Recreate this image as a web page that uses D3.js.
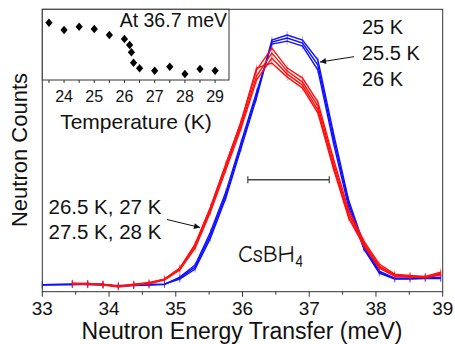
<!DOCTYPE html>
<html>
<head>
<meta charset="utf-8">
<script src="https://cdn.jsdelivr.net/npm/d3@7"></script>
<style>
  body { margin: 0; background: #fff; }
  svg text { font-family: "Liberation Sans", Arial, sans-serif; fill: #111; }
</style>
</head>
<body>
<div id="chart"></div>
<script>
// energy grid (meV)
var energyBlue = [33.0, 33.45, 33.68, 33.91, 34.14, 34.37, 34.60, 34.83, 35.06, 35.29, 35.52, 35.75, 35.98,
  36.21, 36.44, 36.67, 36.90, 37.13, 37.36, 37.59, 37.82, 38.05, 38.28, 38.51, 38.74, 38.97]
var energyRed = [33.45, 33.68, 33.91, 34.14, 34.37, 34.60, 34.83, 35.06, 35.29, 35.52, 35.75, 35.98,
  36.21, 36.44, 36.67, 36.90, 37.13, 37.36, 37.59, 37.82, 38.05, 38.28, 38.51, 38.74, 38.97]

// 25 K, 25.5 K, 26 K
var blue25 = [35, 36, 38, 36, 28, 33, 36, 38, 63, 113, 268, 468, 718, 968, 1258, 1283, 1258, 1158, 798, 458, 233, 103, 68, 68, 71, 71]
var blue255 = [35, 36, 36, 33, 31, 33, 36, 38, 68, 123, 283, 483, 733, 983, 1248, 1268, 1243, 1133, 773, 443, 223, 98, 66, 66, 68, 68]
var blue26 = [35, 38, 41, 36, 26, 31, 33, 36, 73, 133, 298, 498, 748, 998, 1238, 1253, 1228, 1108, 748, 423, 213, 93, 63, 63, 66, 66]

// 26.5 K, 27 K, 27.5 K, 28 K
var red265 = [41, 38, 36, 26, 36, 43, 63, 118, 238, 423, 638, 848, 1108, 1218, 1118, 1068, 948, 668, 408, 253, 138, 88, 81, 76, 98]
var red27 = [41, 36, 36, 28, 33, 41, 61, 113, 228, 408, 623, 833, 1078, 1193, 1103, 1048, 928, 648, 393, 243, 128, 83, 78, 73, 93]
var red275 = [38, 38, 33, 23, 33, 41, 58, 108, 218, 398, 608, 818, 1058, 1168, 1088, 1033, 908, 628, 378, 233, 123, 78, 76, 71, 88]
var red28 = [43, 41, 38, 28, 38, 46, 63, 116, 233, 418, 633, 853, 1118, 1143, 1073, 1018, 893, 618, 368, 228, 118, 78, 73, 71, 83]

var errBar = 18
var resolution = [36.08, 37.30]
var resolutionLevel = 560

// inset: intensity at 36.7 meV vs temperature
var insetTemp = [23.5, 24, 24.5, 25, 25.5, 26, 26.17, 26.23, 26.3, 26.5, 27, 27.5, 28, 28.5, 29]
var insetVal = [57.3, 50, 53.3, 51, 45, 41, 35, 27.7, 17.3, 11.7, 9.3, 13.3, 6, 11, 9.3]

var xTicks = [33, 34, 35, 36, 37, 38, 39]
var insetTicks = [24, 25, 26, 27, 28, 29]

var W = 455, H = 344
var svg = d3.select('#chart').append('svg').attr('width', W).attr('height', H)

function d3Translate(a, b) { return 'translate(' + a + ',' + b + ')' }

var plot = {left: 42.3, right: 442.7, top: 9.3, bottom: 291.7}
var x = d3.scaleLinear().domain([33, 39]).range([plot.left, plot.right])
var y = d3.scaleLinear().domain([0, 1412]).range([plot.bottom, plot.top])

var defs = svg.append('defs')
defs.append('marker')
  .attr('id', 'arrow')
  .attr('viewBox', '0 0 10 10')
  .attr('refX', 10).attr('refY', 5)
  .attr('markerWidth', 9).attr('markerHeight', 6)
  .attr('markerUnits', 'userSpaceOnUse')
  .attr('orient', 'auto')
  .append('path').attr('d', 'M0,0 L10,5 L0,10 z').attr('fill', '#111')

// curves
var line = d3.line().x(function(d) { return x(d[0]) }).y(function(d) { return y(d[1]) })

function drawSeries(es, vs, color) {
  var pts = es.map(function(e, i) { return [e, vs[i]] })
  var g = svg.append('g')
  g.selectAll('line.err').data(pts).enter().append('line')
    .attr('x1', function(d) { return x(d[0]) })
    .attr('x2', function(d) { return x(d[0]) })
    .attr('y1', function(d) { return y(d[1] - errBar) })
    .attr('y2', function(d) { return y(d[1] + errBar) })
    .attr('stroke', color).attr('stroke-width', 0.8).attr('opacity', 0.45)
  g.append('path').attr('d', line(pts))
    .attr('fill', 'none').attr('stroke', color).attr('stroke-width', 1.4)
}

;[blue25, blue255, blue26].forEach(function(s) { drawSeries(energyBlue, s, '#1010ff') })
;[red265, red27, red275, red28].forEach(function(s) { drawSeries(energyRed, s, '#ff1010') })

// resolution bar
var ry = y(resolutionLevel)
svg.append('line').attr('x1', x(resolution[0])).attr('x2', x(resolution[1]))
  .attr('y1', ry).attr('y2', ry).attr('stroke', '#444').attr('stroke-width', 1.4)
resolution.forEach(function(r) {
  svg.append('line').attr('x1', x(r)).attr('x2', x(r)).attr('y1', ry - 3.5).attr('y2', ry + 3.5)
    .attr('stroke', '#444').attr('stroke-width', 1.2)
})

// frame
svg.append('rect').attr('x', plot.left).attr('y', plot.top)
  .attr('width', plot.right - plot.left).attr('height', plot.bottom - plot.top)
  .attr('fill', 'none').attr('stroke', '#333').attr('stroke-width', 1)

// x axis ticks
var minor = d3.range(33.5, 39, 1)
svg.selectAll('line.xmaj').data(xTicks).enter().append('line')
  .attr('x1', x).attr('x2', x).attr('y1', plot.bottom).attr('y2', plot.bottom + 5)
  .attr('stroke', '#333')
svg.selectAll('line.xmin').data(minor).enter().append('line')
  .attr('x1', x).attr('x2', x).attr('y1', plot.bottom).attr('y2', plot.bottom + 3)
  .attr('stroke', '#333')
svg.selectAll('text.xt').data(xTicks).enter().append('text')
  .attr('x', x).attr('y', 315).attr('text-anchor', 'middle')
  .style('font-size', '19px').text(function(d) { return d })

svg.append('text').attr('x', 242).attr('y', 338.5).attr('text-anchor', 'middle')
  .style('font-size', '23px').text('Neutron Energy Transfer (meV)')
svg.append('text').attr('transform', d3Translate(27, 150) + ' rotate(-90)')
  .attr('text-anchor', 'middle').style('font-size', '22px').text('Neutron Counts')

// labels
;['25 K', '25.5 K', '26 K'].forEach(function(t, i) {
  svg.append('text').attr('x', 362).attr('y', 34.3 + i * 25.7).style('font-size', '20px').text(t)
})
svg.append('line').attr('x1', 354).attr('y1', 56.7).attr('x2', 320).attr('y2', 62)
  .attr('stroke', '#111').attr('stroke-width', 1).attr('marker-end', 'url(#arrow)')

;['26.5 K, 27 K', '27.5 K, 28 K'].forEach(function(t, i) {
  svg.append('text').attr('x', 48.5).attr('y', 214 + i * 25).style('font-size', '20.5px').text(t)
})
svg.append('line').attr('x1', 167).attr('y1', 219.5).attr('x2', 200).attr('y2', 227.5)
  .attr('stroke', '#111').attr('stroke-width', 1).attr('marker-end', 'url(#arrow)')

var cs = svg.append('text').attr('x', 238).attr('y', 261.7)
  .style('font-family', '"Comic Sans MS", "Comic Neue", "DejaVu Sans", sans-serif')
  .style('font-size', '24px')
cs.append('tspan').text('CsBH')
cs.append('tspan').attr('dy', 5).style('font-size', '17px').text('4')

// inset
var inset = {left: 42.3, right: 229, top: 9.3, bottom: 80}
var xi = d3.scaleLinear().domain([23.28, 29.46]).range([inset.left, inset.right])
var yi = d3.scaleLinear().domain([0, 70.7]).range([inset.bottom, inset.top])

svg.append('rect').attr('x', inset.left).attr('y', inset.top)
  .attr('width', inset.right - inset.left).attr('height', inset.bottom - inset.top)
  .attr('fill', '#fff').attr('stroke', '#333').attr('stroke-width', 1)

svg.selectAll('line.it').data(d3.range(23.5, 29.5, 0.5)).enter().append('line')
  .attr('x1', xi).attr('x2', xi).attr('y1', inset.bottom).attr('y2', inset.bottom + 3)
  .attr('stroke', '#333')
svg.selectAll('text.itl').data(insetTicks).enter().append('text')
  .attr('x', xi).attr('y', 101.7).attr('text-anchor', 'middle')
  .style('font-size', '16px').text(function(d) { return d })
svg.append('text').attr('x', 136).attr('y', 128.5).attr('text-anchor', 'middle')
  .style('font-size', '21px').text('Temperature (K)')
svg.append('text').attr('x', 227).attr('y', 27.3).attr('text-anchor', 'end')
  .style('font-size', '19.5px').text('At 36.7 meV')

svg.selectAll('path.dia').data(insetTemp).enter().append('path')
  .attr('d', 'M0,-4.2 L3.6,0 L0,4.2 L-3.6,0 Z')
  .attr('transform', function(d, i) { return d3Translate(xi(d), yi(insetVal[i])) })
  .attr('fill', '#000')
</script>
</body>
</html>
